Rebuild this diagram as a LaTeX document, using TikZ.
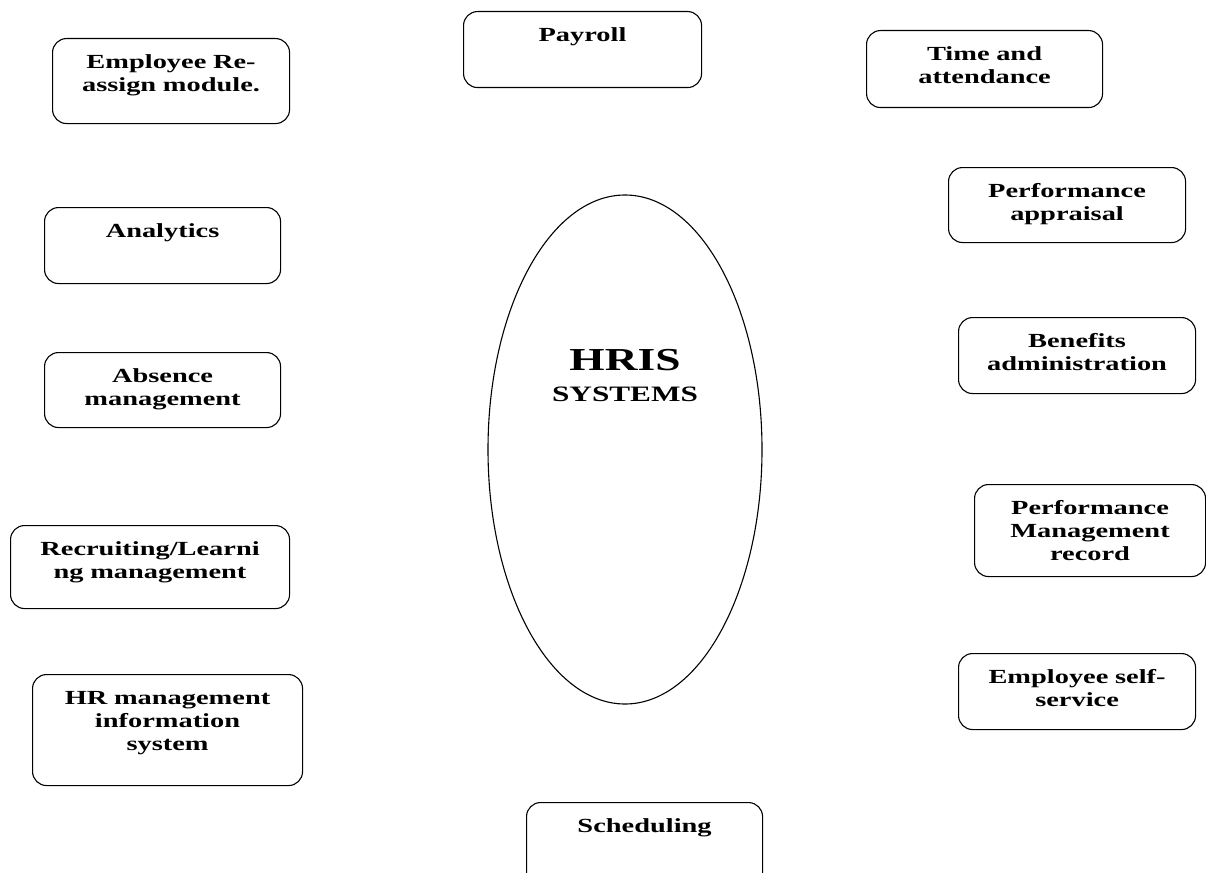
\documentclass[tikz,border=0pt]{standalone}
\usepackage{fontspec}
\newfontfamily\boxfont[FakeStretch=1.42]{Liberation Serif}
\usetikzlibrary{shapes.geometric, positioning}

\tikzset{
    module/.style = {draw, rounded corners=14pt, line width=1.1pt, inner sep=0pt,
        align=center, anchor=north west, text height=29.5pt,
        font=\boxfont\bfseries\fontsize{20}{23.3}\selectfont},
}

\begin{document}
\begin{tikzpicture}[x=1pt, y=-1pt]
                \useasboundingbox (0,0) rectangle (1206,872);

                \node (hris) [draw, ellipse, line width=1.1pt, minimum width=274pt, minimum height=509pt] at (625,449.5) {};
                \node (hrislabel) [anchor=base, align=center, inner sep=0pt, font=\boxfont\bfseries\fontsize{22}{31}\selectfont] at (625,401)
                    {{\fontsize{32}{32}\selectfont HRIS}\\{\bfseries SYSTEMS}};

                \node (reassign) [module, text width=237pt, text depth=55.5pt] at (52,38) {Employee Re-\\assign module.};
                \node (payroll) [module, text width=238pt, text depth=46.5pt] at (463,11) {Payroll};
                \node (time) [module, text width=236pt, text depth=47.5pt] at (866,30) {Time and\\attendance};
                \node (analytics) [module, text width=236pt, text depth=46.5pt] at (44,207) {Analytics};
                \node (appraisal) [module, text width=237pt, text depth=45.5pt] at (948,167) {Performance\\appraisal};
                \node (absence) [module, text width=236pt, text depth=45.5pt] at (44,352) {Absence\\management};
                \node (benefits) [module, text width=237pt, text depth=46.5pt] at (958,317) {Benefits\\administration};
                \node (recruiting) [module, text width=279pt, text depth=53.5pt] at (10,525) {Recruiting/Learni\\ng management};
                \node (perfmgmt) [module, text width=231pt, text depth=62.5pt] at (974,484) {Performance\\Management\\record};
                \node (hrmis) [module, text width=270pt, text depth=81.5pt] at (32,674) {HR management\\information\\system};
                \node (selfservice) [module, text width=237pt, text depth=46.5pt] at (958,653) {Employee self-\\service};
                \node (scheduling) [module, text width=236pt, text depth=58.5pt] at (526,802) {Scheduling};
            \end{tikzpicture}
\end{document}
